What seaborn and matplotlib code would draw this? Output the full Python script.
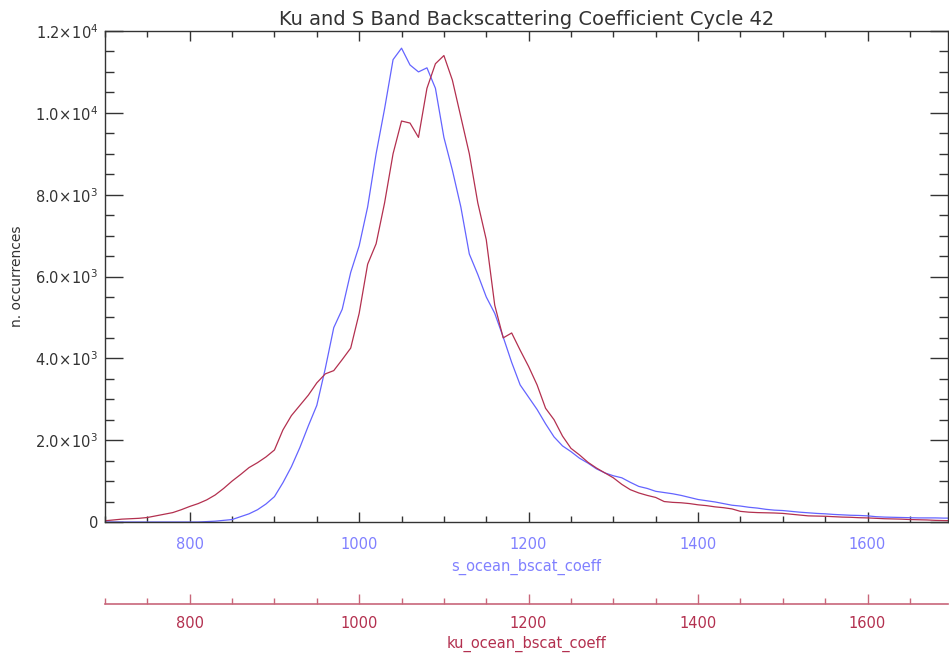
import matplotlib
matplotlib.use("Agg")
import matplotlib.pyplot as plt
from matplotlib.ticker import MultipleLocator, FuncFormatter
import pandas as pd
import seaborn as sns

# Histogram of backscattering coefficient, bins every 10 units
bscat = list(range(700, 1701, 10))

ku_counts = [
    30, 50, 70, 80, 90, 110, 150, 190, 230, 300,
    380, 450, 540, 660, 820, 1000, 1160, 1330, 1450, 1590,
    1760, 2250, 2600, 2850, 3100, 3400, 3620, 3700, 3970, 4250,
    5100, 6300, 6800, 7800, 9000, 9800, 9750, 9400, 10600, 11200,
    11400, 10800, 9900, 9000, 7800, 6900, 5300, 4500, 4620, 4200,
    3800, 3350, 2780, 2500, 2100, 1800, 1640, 1460, 1320, 1200,
    1080, 920, 790, 710, 650, 600, 500, 480, 470, 450,
    420, 400, 370, 350, 320, 260, 240, 230, 225, 220,
    210, 190, 170, 150, 145, 140, 130, 120, 115, 105,
    100, 90, 80, 75, 70, 60, 55, 50, 40, 35,
    30,
]

s_counts = [
    0, 0, 0, 0, 0, 0, 0, 0, 0, 0,
    0, 0, 10, 20, 40, 60, 130, 200, 300, 440,
    620, 960, 1350, 1820, 2350, 2850, 3750, 4750, 5200, 6100,
    6750, 7700, 9000, 10100, 11300, 11580, 11170, 11000, 11100, 10600,
    9400, 8600, 7700, 6550, 6050, 5500, 5100, 4520, 3900, 3350,
    3050, 2750, 2400, 2080, 1860, 1720, 1560, 1440, 1300, 1200,
    1130, 1080, 970, 870, 820, 750, 720, 690, 650, 600,
    550, 520, 490, 450, 410, 390, 360, 340, 310, 290,
    280, 260, 240, 225, 210, 200, 185, 175, 165, 160,
    150, 130, 120, 115, 110, 105, 100, 100, 100, 95,
    95,
]

n = len(bscat)
df = pd.DataFrame({
    "bscat": bscat * 2,
    "count": s_counts + ku_counts,
    "band": ["S"] * n + ["Ku"] * n,
})

BLUE = "#6464FF"
BLUE_TXT = "#8080FF"
RED = "#B3304F"
RED_AX = "#C8667A"
INK = "#333333"

sns.set_theme(style="white")
plt.rcParams["font.family"] = ["DejaVu Sans"]

W, H = 949, 653
fig = plt.figure(figsize=(W / 100, H / 100), dpi=100)
ax = fig.add_axes([105 / W, 131 / H, 843 / W, 491 / H])

sns.lineplot(data=df, x="bscat", y="count", hue="band",
             palette={"S": BLUE, "Ku": RED}, hue_order=["S", "Ku"],
             linewidth=0.9, legend=False, ax=ax)

ax.set_xlim(700, 1695)
ax.set_ylim(0, 12000)

for sp in ax.spines.values():
    sp.set_color(INK)
    sp.set_linewidth(1.0)

ax.xaxis.set_major_locator(MultipleLocator(200))
ax.xaxis.set_minor_locator(MultipleLocator(50))
ax.yaxis.set_major_locator(MultipleLocator(2000))
ax.yaxis.set_minor_locator(MultipleLocator(500))


def sci_fmt(v, pos):
    if v == 0:
        return "0"
    exp = 0
    m = v
    while abs(m) >= 10:
        m /= 10.0
        exp += 1
    return r"$%.1f\!\times\!10^{%d}$" % (m, exp)


ax.yaxis.set_major_formatter(FuncFormatter(sci_fmt))

ax.tick_params(axis="x", which="both", direction="in", top=True, bottom=True,
               colors=INK, labelcolor=BLUE_TXT, labelsize=10.5, pad=11)
ax.tick_params(axis="x", which="major", length=7.5, width=1)
ax.tick_params(axis="x", which="minor", length=4.5, width=1)
ax.tick_params(axis="y", which="both", direction="in", left=True, right=True,
               colors=INK, labelcolor=INK, labelsize=10.5, pad=5)
ax.tick_params(axis="y", which="major", length=13, width=1)
ax.tick_params(axis="y", which="minor", length=6.5, width=1)

ax.set_xlabel("s_ocean_bscat_coeff", color=BLUE_TXT, fontsize=10.5, labelpad=5)
ax.set_ylabel("n. occurrences", color=INK, fontsize=10, labelpad=8)
ax.set_title("Ku and S Band Backscattering Coefficient Cycle 42",
             color=INK, fontsize=14, pad=4)

# Second x axis for the Ku band
ax2 = fig.add_axes([105 / W, 49 / H, 843 / W, 0.0001])
ax2.set_xlim(700, 1695)
ax2.set_yticks([])
for side in ("left", "right", "top"):
    ax2.spines[side].set_visible(False)
ax2.spines["bottom"].set_color(RED_AX)
ax2.spines["bottom"].set_linewidth(1.2)
ax2.set_facecolor("none")
ax2.xaxis.set_major_locator(MultipleLocator(200))
ax2.xaxis.set_minor_locator(MultipleLocator(50))
ax2.tick_params(axis="x", which="both", direction="in", bottom=True, top=False,
                colors=RED_AX, labelcolor=RED, labelsize=10.5, pad=9)
ax2.tick_params(axis="x", which="major", length=7.5, width=1)
ax2.tick_params(axis="x", which="minor", length=4.5, width=1)
ax2.set_xlabel("ku_ocean_bscat_coeff", color=RED, fontsize=10.5, labelpad=3)

fig.savefig("out.png", dpi=100)
